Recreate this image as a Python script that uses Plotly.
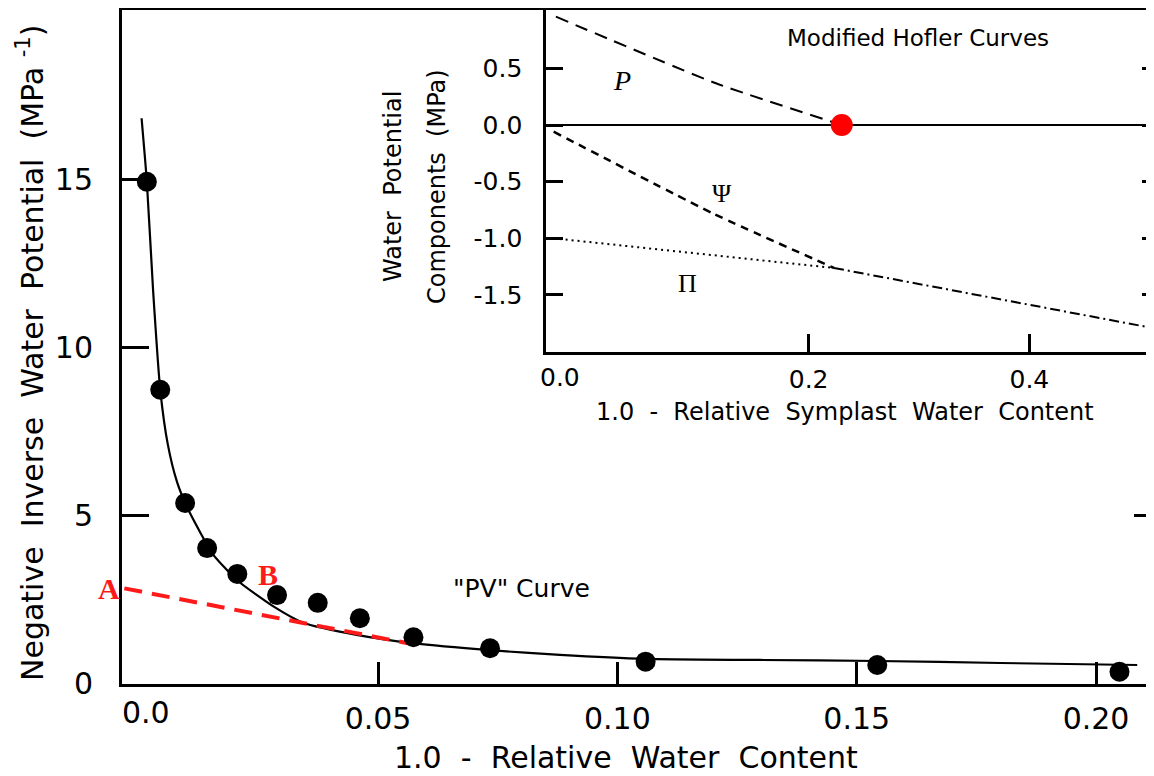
import plotly.graph_objects as go

# ---------------- data ----------------
# main "PV" curve: measured points
pv_x = [0.0017, 0.0045, 0.0097, 0.0143, 0.0206, 0.0289, 0.0374, 0.0462, 0.0574, 0.0734, 0.1059, 0.1543, 0.2049]
pv_y = [14.93, 8.74, 5.37, 4.03, 3.26, 2.63, 2.40, 1.94, 1.375, 1.05, 0.65, 0.55, 0.35]
# fitted curve (traced)
fit_x = [0.0006, 0.0017, 0.0030, 0.0045, 0.0061, 0.0080, 0.0101, 0.0128, 0.0153, 0.0205, 0.0283,
         0.0345, 0.0458, 0.0573, 0.0734, 0.0880, 0.1058, 0.1298, 0.1543, 0.1800, 0.2086]
fit_y = [16.82, 14.93, 11.71, 8.74, 7.10, 6.00, 5.25, 4.51, 3.88, 3.08, 2.28,
         1.80, 1.44, 1.20, 0.99, 0.85, 0.73, 0.70, 0.67, 0.61, 0.55]
# red tangent A-B
tan_x = [-0.0030, 0.0562]
tan_y = [2.83, 1.20]
main_xticks = [0.05, 0.10, 0.15, 0.20]
main_xlabels = ["0.05", "0.10", "0.15", "0.20"]
main_yticks = [0, 5, 10, 15]
main_ylabels = ["0", "5", "10", "15"]

# inset "Modified Hofler Curves"
p_x = [-0.029, 0.116, 0.230]
p_y = [0.956, 0.368, 0.0]
psi_x = [-0.031, 0.113, 0.223]
psi_y = [-0.059, -0.779, -1.262]
pi_x = [-0.031, 0.223]
pi_y = [-1.0, -1.262]
both_x = [0.223, 0.507]
both_y = [-1.262, -1.783]
tlp_x = [0.230]
tlp_y = [0.0]
inset_xticks = [0.2, 0.4]
inset_xlabels = ["0.2", "0.4"]
inset_yticks = [0.5, 0.0, -0.5, -1.0, -1.5]
inset_ylabels = ["0.5", "0.0", "-0.5", "-1.0", "-1.5"]

FONT = "DejaVu Sans"
SERIF = "Liberation Serif"

fig = go.Figure()

# main
fig.add_trace(go.Scatter(x=fit_x, y=fit_y, mode="lines",
                         line=dict(color="black", width=2.2, shape="spline", smoothing=0.6),
                         xaxis="x", yaxis="y", hoverinfo="skip"))
fig.add_trace(go.Scatter(x=tan_x, y=tan_y, mode="lines",
                         line=dict(color="#ff1a1a", width=4, dash="18px,10px"),
                         xaxis="x", yaxis="y"))
fig.add_trace(go.Scatter(x=pv_x, y=pv_y, mode="markers",
                         marker=dict(color="black", size=20), xaxis="x", yaxis="y"))
fig.add_trace(go.Scatter(x=[], y=[], xaxis="x", yaxis="y3", showlegend=False))

# inset
fig.add_trace(go.Scatter(x=p_x, y=p_y, mode="lines",
                         line=dict(color="black", width=2, dash="13px,8px", shape="spline", smoothing=0.5),
                         xaxis="x2", yaxis="y2"))
fig.add_trace(go.Scatter(x=psi_x, y=psi_y, mode="lines",
                         line=dict(color="black", width=2.5, dash="8px,6px", shape="spline", smoothing=0.5),
                         xaxis="x2", yaxis="y2"))
fig.add_trace(go.Scatter(x=pi_x, y=pi_y, mode="lines", line=dict(color="black", width=2, dash="2px,4px"),
                         xaxis="x2", yaxis="y2"))
fig.add_trace(go.Scatter(x=both_x, y=both_y, mode="lines",
                         line=dict(color="black", width=2, dash="10px,4px,2px,4px"),
                         xaxis="x2", yaxis="y2"))
fig.add_trace(go.Scatter(x=tlp_x, y=tlp_y, mode="markers", marker=dict(color="#ff0000", size=22),
                         xaxis="x2", yaxis="y2", cliponaxis=False))
fig.add_trace(go.Scatter(x=[], y=[], xaxis="x2", yaxis="y4", showlegend=False))

tickfont = dict(family=FONT, size=30, color="black")
itickfont = dict(family=FONT, size=25, color="black")

# the page body adds an 8 px offset; plot area spans x 122..1154, y 10..684 on screen
fig.update_layout(
    width=1146, height=768, showlegend=False,
    paper_bgcolor="white", plot_bgcolor="white",
    margin=dict(l=114, r=0, t=2, b=92, pad=0),
    xaxis=dict(domain=[0, 1], range=[-0.00349, 0.21211], anchor="y",
               showline=True, linecolor="black", linewidth=3, mirror=True,
               ticks="inside", ticklen=22, tickwidth=2.5, tickcolor="black",
               tickvals=main_xticks, ticktext=main_xlabels, tickfont=tickfont,
               ticklabelstandoff=6, showgrid=False, zeroline=False),
    yaxis=dict(domain=[0, 1], range=[-0.015, 20.04], anchor="x",
               showline=True, linecolor="black", linewidth=3, mirror=False,
               ticks="inside", ticklen=27, tickwidth=2.5, tickcolor="black",
               tickvals=main_yticks, ticktext=main_ylabels, tickfont=tickfont,
               ticklabelstandoff=20, showgrid=False, zeroline=False),
    yaxis3=dict(overlaying="y", side="right", anchor="x", range=[-0.015, 20.04],
                showline=False, ticks="inside", ticklen=20, tickwidth=2.5, tickcolor="black",
                tickvals=main_yticks, showticklabels=False, showgrid=False, zeroline=False),
    xaxis2=dict(domain=[0.4109, 1.0], range=[-0.0379, 0.5129], anchor="y2",
                showline=True, linecolor="black", linewidth=2.5, mirror=True,
                ticks="inside", ticklen=18, tickwidth=2.5, tickcolor="black",
                tickvals=inset_xticks, ticktext=inset_xlabels, tickfont=itickfont,
                ticklabelstandoff=4, showgrid=False, zeroline=False),
    yaxis2=dict(domain=[0.4930, 1.0], range=[-2.001, 1.015], anchor="x2",
                showline=True, linecolor="black", linewidth=2.5, mirror=False,
                ticks="inside", ticklen=17, tickwidth=2.5, tickcolor="black",
                tickvals=inset_yticks, ticktext=inset_ylabels, tickfont=itickfont,
                ticklabelstandoff=16, showgrid=False,
                zeroline=True, zerolinecolor="black", zerolinewidth=2),
    yaxis4=dict(overlaying="y2", side="right", anchor="x2", range=[-2.001, 1.015],
                showline=False, ticks="inside", ticklen=12, tickwidth=2.5, tickcolor="black",
                tickvals=inset_yticks, showticklabels=False, showgrid=False, zeroline=False),
)


def px(x):
    return (x - 122) / 1032


def py(y):
    return (684 - y) / 674


def label(text, x, y, font, angle=0):
    return dict(text=text, x=px(x), y=py(y), xref="paper", yref="paper", showarrow=False,
                textangle=angle, font=font, xanchor="center", yanchor="middle")


ann = [
    # main axis texts
    label("0.0", 146, 712, tickfont),
    label("1.0  -  Relative  Water  Content", 626, 757, dict(family=FONT, size=30, color="black")),
    label("Negative  Inverse  Water  Potential  (MPa <sup>-1</sup>)", 30, 353,
          dict(family=FONT, size=30, color="black"), -90),
    label("A", 109, 588, dict(family=SERIF, size=30, color="#ff1a1a", weight="bold")),
    label("B", 268, 574, dict(family=SERIF, size=30, color="#ff1a1a", weight="bold")),
    label("\"PV\" Curve", 521, 588, dict(family=FONT, size=25, color="black")),
    # inset texts
    label("0.0", 560, 377, itickfont),
    label("1.0  -  Relative  Symplast  Water  Content", 845, 412, dict(family=FONT, size=24, color="black")),
    label("Water  Potential", 393, 187, dict(family=FONT, size=24, color="black"), -90),
    label("Components  (MPa)", 437, 187, dict(family=FONT, size=24, color="black"), -90),
    label("Modified Hofler Curves", 918, 38, dict(family=FONT, size=23, color="black")),
    label("<i>P</i>", 622, 80, dict(family=SERIF, size=28, color="black")),
    label("Ψ", 722, 193, dict(family=SERIF, size=26, color="black")),
    label("Π", 687, 283, dict(family=SERIF, size=26, color="black")),
]
fig.update_layout(annotations=ann)

fig.write_html("out.html")
